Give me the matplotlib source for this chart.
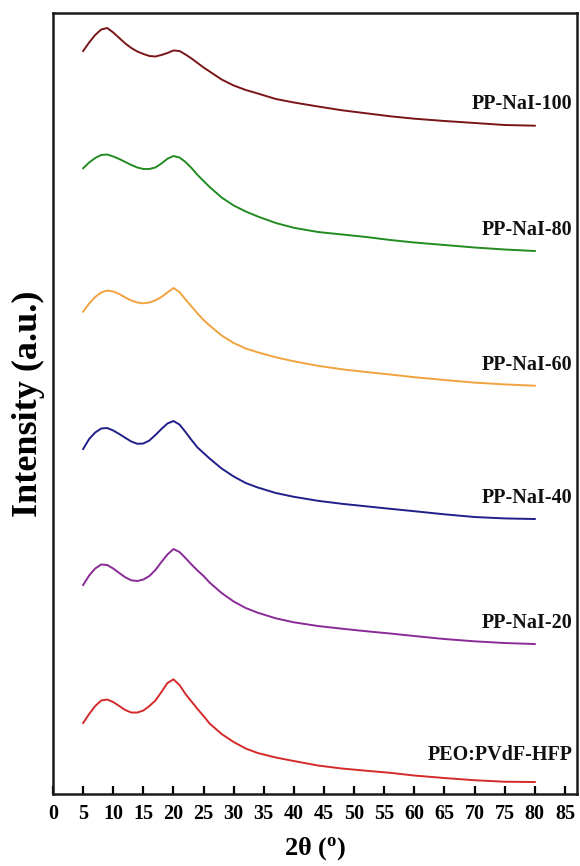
import matplotlib.pyplot as plt

# 2-theta grid (degrees) the patterns were read on
two_theta = [5, 6, 7, 8, 9, 10, 11, 12, 13, 14, 15, 16, 17, 18, 19, 20, 21, 22, 23, 24,
             25, 26, 28, 30, 32, 34, 37, 40, 44, 48, 52, 56, 60, 65, 70, 75, 80]

# stacked XRD intensities (a.u.), bottom to top
peo_pvdf = [71, 80, 88, 93.5, 94.5, 92, 88, 84, 81.5, 81.5, 83.5, 88, 93.5, 102, 111,
            114.7, 109, 100, 92.5, 85, 78, 70.5, 60, 52, 45.5, 41, 36.5, 33, 28.5, 25.5,
            23.3, 21.2, 18.5, 16, 13.8, 12.3, 12]
pp_nai_20 = [209, 218.5, 225.5, 229.5, 229, 225.5, 221, 216.7, 213.7, 213, 214.5, 218,
             224, 232, 239.5, 245, 242, 236, 229.5, 223.5, 218, 211.5, 201, 192.5, 186,
             181.3, 175.7, 171.7, 168, 165.3, 162.8, 160.5, 158, 155, 152.7, 151, 150]
pp_nai_40 = [345, 355, 361.5, 365.5, 366, 363.5, 360, 356.2, 352.5, 350.2, 350.5, 353.5,
             359, 365, 370.5, 373, 369.5, 362, 354, 346.5, 341, 335.5, 325.5, 317.5, 311,
             306.5, 301, 297.2, 293.2, 290.2, 287.7, 285.2, 282.8, 279.7, 277, 275.6, 275]
pp_nai_60 = [482.3, 490.5, 497, 501.5, 503.5, 502.5, 500, 496.5, 493.5, 491.5, 490.7,
             491.5, 493.7, 497, 501.5, 506, 502, 494.5, 487.5, 480.5, 474, 468.5, 458.5,
             451, 445.5, 441.7, 436.7, 432.7, 428.2, 424.7, 422, 419.5, 416.8, 414, 411.4,
             409.6, 408.3]
pp_nai_80 = [625.7, 631.5, 636, 639, 639.5, 637.5, 635, 632, 629, 626.5, 625, 625, 626.5,
             630.5, 635.2, 638, 636.5, 632, 626, 619, 613, 607, 596.5, 588.5, 582.5, 577.5,
             571, 566.2, 562, 559.5, 557, 554, 551.5, 549, 546.5, 544.5, 543]
pp_nai_100 = [743, 751.5, 759, 764.5, 766, 761.5, 756, 750.5, 746, 742.5, 740, 738, 737.5,
              739, 741, 743.5, 743, 739.5, 735.5, 731, 726.5, 722.5, 714.5, 708.5, 704,
              700.5, 695, 691.5, 687.5, 683.7, 680.7, 677.7, 675.3, 673, 671, 669, 668.3]

names = ['PEO:PVdF-HFP', 'PP-NaI-20', 'PP-NaI-40', 'PP-NaI-60', 'PP-NaI-80', 'PP-NaI-100']
series = [peo_pvdf, pp_nai_20, pp_nai_40, pp_nai_60, pp_nai_80, pp_nai_100]
colors = ['#d42a2a', '#8a2a96', '#1f1f8a', '#f2a340', '#228b22', '#7a1517']
label_gap = [27, 21, 21, 21, 21, 22]

xticks = list(range(0, 90, 5))

plt.rcParams['font.family'] = 'Liberation Serif'
plt.rcParams['font.weight'] = 'bold'
plt.rcParams['mathtext.fontset'] = 'custom'
plt.rcParams['mathtext.rm'] = 'Liberation Serif'
plt.rcParams['mathtext.bf'] = 'Liberation Serif:bold'

fig = plt.figure(figsize=(5.8, 8.66), dpi=100)
ax = fig.add_axes([0.0914, 0.0831, 0.9034, 0.9019])

for ys, name, c, gap in zip(series, names, colors, label_gap):
    ax.plot(two_theta, ys, '-', c=c, lw=1.4)
    ax.text(86.3, ys[-1] + gap, name, ha='right', va='center',
            fontsize=14.5, fontweight='bold', color='#111111')

ax.set_xlim(0, 87)
ax.set_ylim(0, 781)
ax.set_xticks(xticks)
ax.set_xticklabels([str(t) for t in xticks], fontsize=14.5, fontweight='bold')
ax.set_yticks([])
ax.tick_params(axis='x', direction='in', length=6, width=1.6, pad=7)

for s in ax.spines.values():
    s.set_linewidth(1.8)
    s.set_color('#1a1a1a')

ax.set_xlabel('2θ ($\\mathbf{^o}$)', fontsize=19, fontweight='bold', labelpad=8)
ax.set_ylabel('Intensity (a.u.)', fontsize=26, fontweight='bold', labelpad=6)

fig.savefig('out.png', dpi=100)
